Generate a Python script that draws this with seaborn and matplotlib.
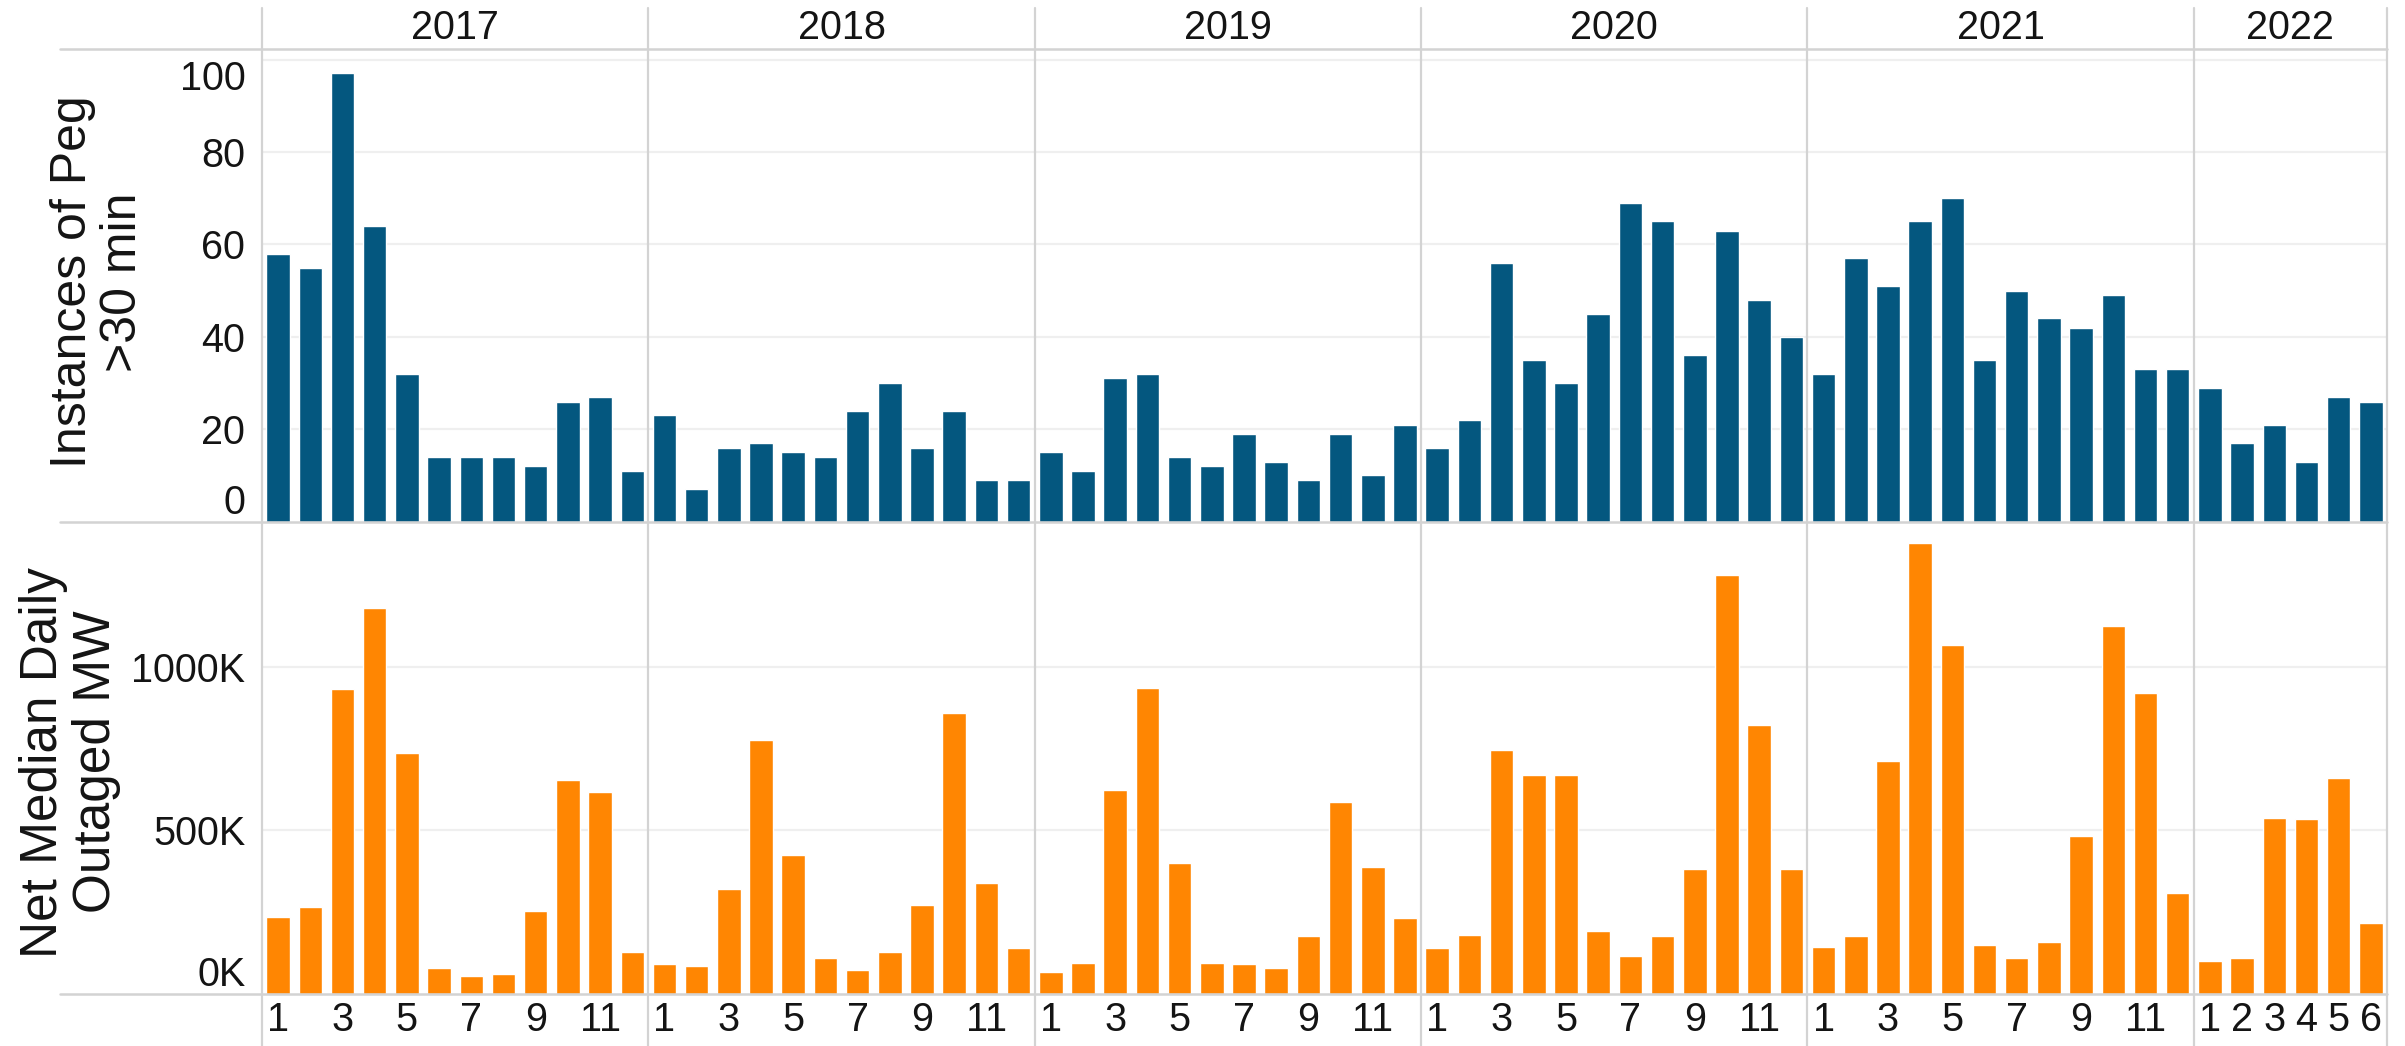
import numpy as np
import pandas as pd
import matplotlib
matplotlib.use("Agg")
import matplotlib.pyplot as plt
from matplotlib.lines import Line2D
from matplotlib.ticker import FixedLocator, FuncFormatter, NullFormatter
import seaborn as sns

# ---------------- data ----------------
years = [2017, 2018, 2019, 2020, 2021, 2022]
months_per_year = [12, 12, 12, 12, 12, 6]

peg_2017 = [58, 55, 97, 64, 32, 14, 14, 14, 12, 26, 27, 11]
peg_2018 = [23, 7, 16, 17, 15, 14, 24, 30, 16, 24, 9, 9]
peg_2019 = [15, 11, 31, 32, 14, 12, 19, 13, 9, 19, 10, 21]
peg_2020 = [16, 22, 56, 35, 30, 45, 69, 65, 36, 63, 48, 40]
peg_2021 = [32, 57, 51, 65, 70, 35, 50, 44, 42, 49, 33, 33]
peg_2022 = [29, 17, 21, 13, 27, 26]

mw_2017 = [235, 266, 931, 1178, 737, 78, 55, 61, 254, 653, 616, 127]
mw_2018 = [91, 85, 321, 775, 424, 109, 72, 127, 273, 859, 338, 139]
mw_2019 = [67, 96, 624, 936, 399, 96, 91, 79, 176, 587, 387, 231]
mw_2020 = [139, 181, 744, 670, 670, 193, 115, 176, 381, 1281, 823, 381]
mw_2021 = [145, 176, 713, 1378, 1065, 151, 109, 158, 484, 1125, 920, 309]
mw_2022 = [102, 109, 538, 533, 660, 218]

peg_values = peg_2017 + peg_2018 + peg_2019 + peg_2020 + peg_2021 + peg_2022
mw_values = mw_2017 + mw_2018 + mw_2019 + mw_2020 + mw_2021 + mw_2022
year_col = sum([[y] * n for y, n in zip(years, months_per_year)], [])
month_col = sum([list(range(1, n + 1)) for n in months_per_year], [])

top_ticks = [0, 20, 40, 60, 80, 100]
bottom_ticks = [0, 500, 1000]
top_label = "Instances of Peg\n>30 min"
bottom_label = "Net Median Daily\nOutaged MW"

df = pd.DataFrame({
    "pos": np.arange(len(peg_values)),
    "year": year_col,
    "month": month_col,
    "peg": peg_values,
    "mw": mw_values,
})

# ---------------- style ----------------
BLUE = "#04577f"
ORANGE = "#ff8602"
LINE = "#d3d3d3"
GRID = "#efefef"
TXT = "#141414"

sns.set_style("white")
plt.rcParams["font.family"] = ["Liberation Sans", "DejaVu Sans"]

W, H = 2405, 1046
fig = plt.figure(figsize=(W / 100, H / 100), dpi=100)
fig.patch.set_facecolor("white")

x_left, x_right = 262 / W, 2387 / W
y_head, y_mid, y_base = 49, 521.7, 994
ax_top = fig.add_axes([x_left, 1 - y_mid / H, x_right - x_left, (y_mid - y_head) / H])
ax_bot = fig.add_axes([x_left, 1 - y_base / H, x_right - x_left, (y_base - y_mid) / H])

sns.barplot(data=df, x="pos", y="peg", color=BLUE, saturation=1, width=0.73,
            ax=ax_top, order=list(df["pos"]))
sns.barplot(data=df, x="pos", y="mw", color=ORANGE, saturation=1, width=0.73,
            ax=ax_bot, order=list(df["pos"]))

n = len(df)
for ax in (ax_top, ax_bot):
    ax.set_xlim(-0.5, n - 0.5)
    ax.set_xlabel("")
    ax.set_ylabel("")
    for s in ax.spines.values():
        s.set_visible(False)
    ax.set_facecolor("none")
    ax.grid(False)

ax_top.set_ylim(0, 102.3)
ax_bot.set_ylim(0, 1442.6)

# y ticks & grids
for ax, ticks, fmt in ((ax_top, top_ticks, lambda v, p: f"{v:g}"),
                       (ax_bot, bottom_ticks, lambda v, p: f"{v:g}K")):
    ax.yaxis.set_major_locator(FixedLocator(ticks))
    ax.yaxis.set_major_formatter(FuncFormatter(fmt))
    ax.tick_params(axis="y", length=0, pad=12, labelsize=28.5, labelcolor=TXT)
    for t in ticks[1:]:
        ax.axhline(t, color=GRID, lw=1.6, zorder=0)

fig.canvas.draw()
# Tableau-style shifting of edge labels
tl = ax_top.get_yticklabels()
tl[0].set_va("bottom")
tl[-1].set_va("top")
bl = ax_bot.get_yticklabels()
bl[0].set_va("bottom")

# x ticks
ax_top.xaxis.set_major_locator(FixedLocator([]))
ax_top.tick_params(axis="x", length=0, labelbottom=False)

lab_pos, lab_txt = [], []
for p, y, m in zip(df["pos"], df["year"], df["month"]):
    if y == 2022 or m % 2 == 1:
        lab_pos.append(p)
        lab_txt.append(str(m))
ax_bot.set_xticks(lab_pos)
ax_bot.set_xticklabels(lab_txt)
ax_bot.tick_params(axis="x", length=0, pad=5, labelsize=28.5, labelcolor=TXT)
ax_bot.xaxis.set_minor_locator(FixedLocator(np.arange(0.5, n - 1, 1.0)))
ax_bot.xaxis.set_minor_formatter(NullFormatter())
ax_bot.tick_params(axis="x", which="minor", length=7, width=1, color="#e6e6e6")

# ---------------- lines in figure coords ----------------
def fig_x(xdata):
    disp = ax_bot.transData.transform((xdata, 0))
    return fig.transFigure.inverted().transform(disp)[0]

bounds = [-0.5]
acc = 0
for m in months_per_year:
    acc += m
    bounds.append(acc - 0.5)

for b in bounds:
    fx = fig_x(b)
    fig.add_artist(Line2D([fx, fx], [0, 1 - 8 / H], color=LINE, lw=1.6,
                          transform=fig.transFigure, zorder=5))

for yy in (y_head, y_mid, y_base):
    fig.add_artist(Line2D([60 / W, x_right], [1 - yy / H, 1 - yy / H], color=LINE,
                          lw=1.8, transform=fig.transFigure, zorder=5))

# year headers
start = 0
for y, m in zip(years, months_per_year):
    cx = fig_x(start + (m - 1) / 2)
    fig.text(cx, 1 - 28 / H, str(y), ha="center", va="center", fontsize=28.5, color=TXT)
    start += m

# y axis titles
fig.text(98 / W, 1 - 282 / H, top_label, rotation=90, ha="center", va="center",
         fontsize=36, color=TXT, multialignment="center", linespacing=1.1)
fig.text(70 / W, 1 - 762 / H, bottom_label, rotation=90, ha="center", va="center",
         fontsize=37, color=TXT, multialignment="center", linespacing=1.1)

fig.savefig("out.png", dpi=100, facecolor="white")
